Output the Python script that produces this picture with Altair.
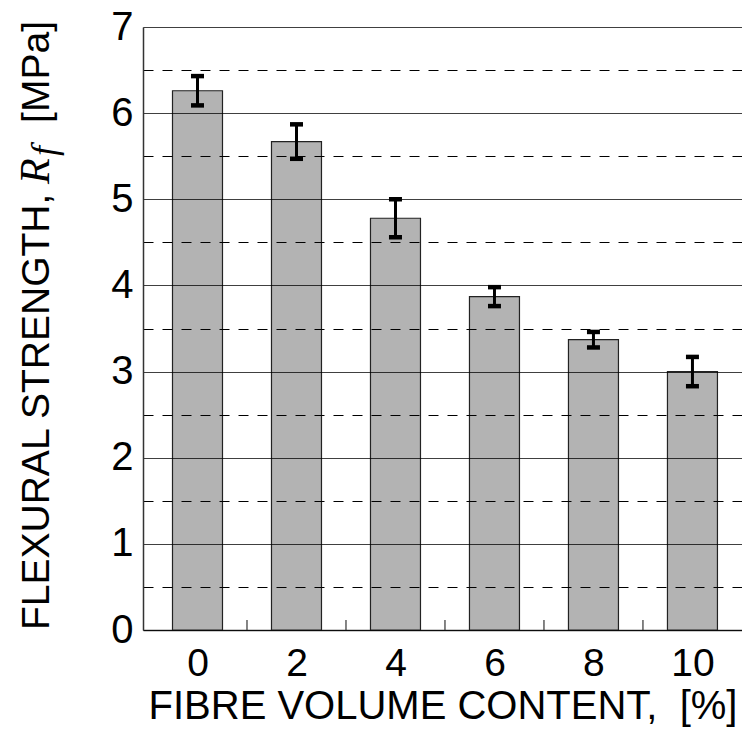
import altair as alt
import pandas as pd

# Data
content = [0, 2, 4, 6, 8, 10]
strength = [6.26, 5.67, 4.78, 3.87, 3.37, 3.00]
error = [0.17, 0.20, 0.22, 0.11, 0.09, 0.17]
boundaries = [1, 3, 5, 7, 9]
y_ticks = [i * 0.5 for i in range(15)]
x_labels = [0, 2, 4, 6, 8, 10]

df = pd.DataFrame({
    "content": content,
    "strength": strength,
    "lo": [s - e for s, e in zip(strength, error)],
    "hi": [s + e for s, e in zip(strength, error)],
})
bdf = pd.DataFrame({"b": boundaries})

FONT = "Liberation Sans"
FS = 39

x_scale = alt.Scale(domain=[-1, 10.9], nice=False, zero=False)
y_scale = alt.Scale(domain=[0, 7], nice=False)

x_axis = alt.Axis(
    values=x_labels, title="FIBRE VOLUME CONTENT,\u00a0\u00a0[%]", grid=False, ticks=False,
    labelFlush=False, labelFont=FONT, labelFontSize=FS, labelColor="black",
    labelPadding=14, titleFont=FONT, titleFontSize=40, titleFontWeight="normal",
    titleColor="black", titlePadding=3, domainColor="#333", domainWidth=1.5,
    labelAngle=0,
)
y_axis = alt.Axis(
    values=y_ticks, title=None, ticks=True, tickSize=0, grid=True,
    gridColor="black", gridWidth=1,
    gridDash={"condition": {"test": "datum.value % 1 === 0", "value": [1, 0]}, "value": [10, 9]},
    labelExpr="datum.value % 1 === 0 ? format(datum.value, 'd') : ''",
    labelFont=FONT, labelFontSize=40, labelColor="black", labelPadding=10,
    domainColor="#333", domainWidth=1.5, zindex=1,
)

bars = alt.Chart(df).mark_bar(size=50, fill="#b3b3b3", stroke="#222", strokeWidth=1.2).encode(
    x=alt.X("content:Q", scale=x_scale, axis=x_axis),
    y=alt.Y("strength:Q", scale=y_scale, axis=y_axis),
)

err_line = alt.Chart(df).mark_rule(color="black", strokeWidth=3, opacity=1).encode(
    x="content:Q", y="lo:Q", y2="hi:Q"
)
cap_lo = alt.Chart(df).mark_tick(color="black", orient="horizontal", size=13, thickness=4.5, opacity=1).encode(
    x="content:Q", y="lo:Q"
)
cap_hi = alt.Chart(df).mark_tick(color="black", orient="horizontal", size=13, thickness=4.5, opacity=1).encode(
    x="content:Q", y="hi:Q"
)

inner_ticks = alt.Chart(bdf).mark_rule(color="#333", strokeWidth=1.2).encode(
    x=alt.X("b:Q", scale=x_scale), y=alt.value(603), y2=alt.value(593)
)

t1 = alt.Chart(pd.DataFrame({"t": ["FLEXURAL STRENGTH,"]})).mark_text(
    font=FONT, fontSize=FS, angle=270, align="left", baseline="alphabetic", color="black"
).encode(text="t:N", x=alt.value(-94), y=alt.value(603))
t2 = alt.Chart(pd.DataFrame({"t": ["R"]})).mark_text(
    font="Liberation Serif", fontStyle="italic", fontSize=42, angle=270, align="left",
    baseline="alphabetic", color="black"
).encode(text="t:N", x=alt.value(-94), y=alt.value(157))
t3 = alt.Chart(pd.DataFrame({"t": ["f"]})).mark_text(
    font="Liberation Serif", fontStyle="italic", fontSize=36, angle=270, align="left",
    baseline="alphabetic", color="black"
).encode(text="t:N", x=alt.value(-87), y=alt.value(129))
t4 = alt.Chart(pd.DataFrame({"t": ["[MPa]"]})).mark_text(
    font=FONT, fontSize=FS, angle=270, align="right", baseline="alphabetic", color="black"
).encode(text="t:N", x=alt.value(-94), y=alt.value(-6))

chart = alt.layer(bars, inner_ticks, err_line, cap_lo, cap_hi, t1, t2, t3, t4).properties(
    width=599, height=603,
    autosize=alt.AutoSizeParams(type="none"),
    padding={"left": 143, "top": 27, "right": 0, "bottom": 103},
    background="white",
).configure_view(stroke=None)

chart.save("out.html", embed_options={"renderer": "svg", "actions": False})
